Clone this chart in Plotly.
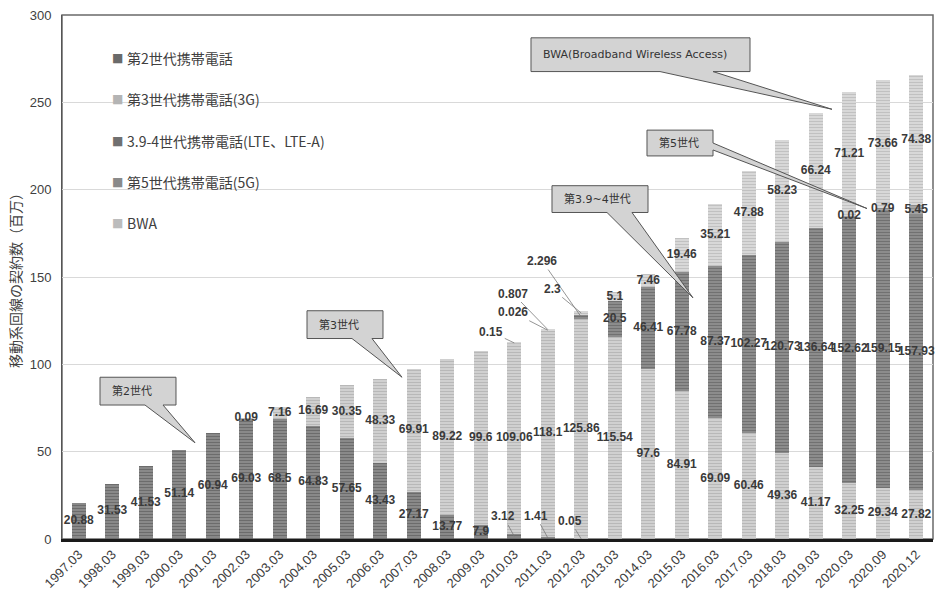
import plotly.graph_objects as go

# ---- data: mobile subscriptions by generation (millions) ----
periods = [
    "1997.03", "1998.03", "1999.03", "2000.03", "2001.03", "2002.03", "2003.03",
    "2004.03", "2005.03", "2006.03", "2007.03", "2008.03", "2009.03", "2010.03",
    "2011.03", "2012.03", "2013.03", "2014.03", "2015.03", "2016.03", "2017.03",
    "2018.03", "2019.03", "2020.03", "2020.09", "2020.12",
]
gen2 = [20.88, 31.53, 41.53, 51.14, 60.94, 69.03, 68.5, 64.83, 57.65, 43.43,
        27.17, 13.77, 7.9, 3.12, 1.41, 0.05] + [None] * 10
gen3 = [None] * 5 + [0.09, 7.16, 16.69, 30.35, 48.33, 69.91, 89.22, 99.6, 109.06,
                     118.1, 125.86, 115.54, 97.6, 84.91, 69.09, 60.46, 49.36,
                     41.17, 32.25, 29.34, 27.82]
lte = [None] * 14 + [0.026, 2.296, 20.5, 46.41, 67.78, 87.37, 102.27, 120.73,
                     136.64, 152.62, 159.15, 157.93]
gen5 = [None] * 23 + [0.02, 0.79, 5.45]
bwa = [None] * 13 + [0.15, 0.807, 2.3, 5.1, 7.46, 19.46, 35.21, 47.88, 58.23,
                     66.24, 71.21, 73.66, 74.38]

# key, legend name, values, stripe colour, fill colour, legend swatch colour
series = [
    ("g2", "第2世代携帯電話", gen2, "#4a4a4a", "#8e8e8e", "#6a6a6a"),
    ("g3", "第3世代携帯電話(3G)", gen3, "#9c9c9c", "#d4d4d4", "#b4b4b4"),
    ("lte", "3.9-4世代携帯電話(LTE、LTE-A)", lte, "#525252", "#909090", "#707070"),
    ("g5", "第5世代携帯電話(5G)", gen5, "#6e6e6e", "#a9a9a9", "#8a8a8a"),
    ("bwa", "BWA", bwa, "#a6a6a6", "#dcdcdc", "#bcbcbc"),
]

# labels pulled away from tiny segments, with a leader line (pixel offsets)
leader_labels = {
    ("g2", "2010.03"): (-11, -20),
    ("g2", "2011.03"): (-12, -22),
    ("g2", "2012.03"): (-11, -18),
    ("bwa", "2010.03"): (-23, -11),
    ("lte", "2011.03"): (-35, -18),
    ("bwa", "2011.03"): (-35, -36),
    ("bwa", "2012.03"): (-29, -24),
    ("lte", "2012.03"): (-39, -56),
}

W, H = 941, 599
M_L, M_R, M_T, M_B = 62, 8, 12, 59
PW, PH = W - M_L - M_R, H - M_T - M_B

LABEL_FONT = dict(family="Liberation Sans, Arial, sans-serif", size=12,
                  color="#3a3a3a", weight="bold")


def px(x):
    return (x - M_L) / PW


def py(y):
    return (M_T + PH - y) / PH


fig = go.Figure()

base = [0.0] * len(periods)
lab_x, lab_y, lab_t = [], [], []
annotations = []

for key, name, vals, fg, bg, sw in series:
    fig.add_trace(go.Bar(
        x=periods, y=vals, name=name, showlegend=False,
        marker=dict(color=bg, line=dict(width=0),
                    pattern=dict(shape="-", fgcolor=fg, bgcolor=bg,
                                 size=3, solidity=0.45, fillmode="overlay")),
        hoverinfo="skip",
    ))
    for i, v in enumerate(vals):
        if v is None:
            continue
        mid = base[i] + v / 2
        if (key, periods[i]) in leader_labels:
            ax, ay = leader_labels[(key, periods[i])]
            # category axis: annotation x given as the category index
            annotations.append(dict(
                x=i, y=mid, xref="x", yref="y", text=f"{v:g}",
                showarrow=True, arrowhead=0, arrowwidth=0.8, arrowcolor="#7a7a7a",
                ax=ax, ay=ay, font=LABEL_FONT, standoff=0,
            ))
        else:
            lab_x.append(periods[i])
            lab_y.append(mid)
            lab_t.append(f"{v:g}")
        base[i] += v

fig.add_trace(go.Scatter(
    x=lab_x, y=lab_y, text=lab_t, mode="text", textposition="middle center",
    textfont=LABEL_FONT, showlegend=False, hoverinfo="skip", cliponaxis=False,
))

# legend block inside the plot area: small square swatch + series name
LEG_X_SWATCH, LEG_X_TEXT, LEG_Y0, LEG_STEP = 117, 125, 55.5, 41.5
for k, (key, name, vals, fg, bg, sw) in enumerate(series):
    yy = py(LEG_Y0 + k * LEG_STEP)
    annotations.append(dict(
        x=px(LEG_X_SWATCH), y=yy, xref="paper", yref="paper", text="■",
        showarrow=False, xanchor="center", yanchor="middle",
        font=dict(family="DejaVu Sans, sans-serif", size=12, color=sw),
    ))
    annotations.append(dict(
        x=px(LEG_X_TEXT), y=yy, xref="paper", yref="paper", text=name,
        showarrow=False, xanchor="left", yanchor="middle",
        font=dict(family="Noto Sans CJK JP, sans-serif", size=14, color="#404040"),
    ))

# callout boxes: (text, box x0, y0, x1, y1, tail polygon points) in pixels
callouts = [
    ("第2世代", (100, 377, 176, 405), [(163, 405), (195, 443), (145, 405)], "bottom"),
    ("第3世代", (307, 310, 383, 338), [(372, 338), (402, 377), (352, 338)], "bottom"),
    ("第3.9~4世代", (552, 184, 648, 211), [(632, 211), (693, 297), (607, 211)], "bottom"),
    ("第5世代", (647, 128, 713, 154), [(713, 141), (867, 207), (713, 148)], "right"),
    ("BWA(Broadband Wireless Access)", (531, 35, 750, 69),
     [(713, 69), (832, 107), (660, 69)], "bottom"),
]

shapes = [dict(type="rect", xref="paper", yref="paper", x0=0, y0=0, x1=1, y1=1,
               line=dict(color="#6a6a6a", width=1.5), layer="below")]

for text, (x0, y0, x1, y1), tail, side in callouts:
    if side == "bottom":
        pts = [(x0, y0), (x1, y0), (x1, y1)] + tail + [(x0, y1)]
    else:
        pts = [(x0, y0), (x1, y0)] + tail + [(x1, y1), (x0, y1)]
    path = "M " + " L ".join(f"{px(a):.5f},{py(b):.5f}" for a, b in pts) + " Z"
    shapes.append(dict(type="path", xref="paper", yref="paper", path=path,
                       fillcolor="#d3d3d3", line=dict(color="#555555", width=1),
                       layer="above"))
    annotations.append(dict(
        x=px(x0 + 10), y=py((y0 + y1) / 2), xref="paper", yref="paper",
        text=text, showarrow=False, xanchor="left", yanchor="middle",
        font=dict(family="DejaVu Sans, Noto Sans CJK JP, sans-serif", size=11,
                  color="#333333"),
    ))

fig.update_layout(
    width=W, height=H,
    margin=dict(l=M_L, r=M_R, t=M_T, b=M_B, pad=0),
    paper_bgcolor="white", plot_bgcolor="white",
    barmode="stack", bargap=0.58,
    showlegend=False,
    font=dict(family="Noto Sans CJK JP, sans-serif", color="#404040"),
    xaxis=dict(
        type="category", tickangle=-45, showgrid=False, ticks="",
        showline=True, linecolor="#1a1a1a", linewidth=2.5,
        range=[-0.5, len(periods) - 0.5],
        tickfont=dict(family="Liberation Sans, Arial, sans-serif", size=13,
                      color="#404040"),
    ),
    yaxis=dict(
        range=[0, 300], dtick=50, showgrid=True, gridcolor="#d9d9d9",
        zeroline=False, showline=True, linecolor="#555555", linewidth=1,
        ticks="", ticklabelstandoff=7,
        tickfont=dict(family="Liberation Sans, Arial, sans-serif", size=13,
                      color="#404040"),
        title=dict(text="移動系回線の契約数（百万）", standoff=4,
                   font=dict(family="Noto Sans CJK JP, sans-serif", size=14,
                             color="#404040")),
    ),
    shapes=shapes,
    annotations=annotations,
)

fig.write_html("out.html")
